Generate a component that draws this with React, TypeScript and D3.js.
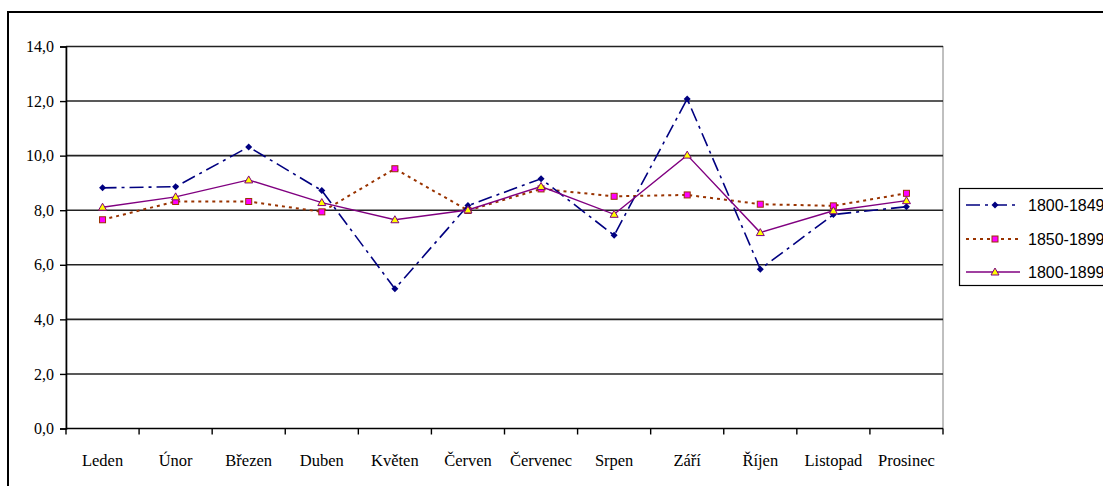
import React, { useRef, useEffect } from "react";
import * as d3 from "d3";

const months = [
  "Leden", "Únor", "Březen", "Duben", "Květen", "Červen",
  "Červenec", "Srpen", "Září", "Říjen", "Listopad", "Prosinec",
];

const s1800_1849 = [8.82, 8.86, 10.32, 8.72, 5.12, 8.17, 9.15, 7.08, 12.08, 5.84, 7.84, 8.13];
const s1850_1899 = [7.65, 8.32, 8.32, 7.94, 9.52, 7.99, 8.78, 8.51, 8.56, 8.22, 8.16, 8.62];
const s1800_1899 = [8.11, 8.49, 9.11, 8.28, 7.65, 8.01, 8.87, 7.85, 10.02, 7.18, 7.98, 8.35];

const seriesNames = ["1800-1849", "1850-1899", "1800-1899"];
const yTicks = [0, 2, 4, 6, 8, 10, 12, 14];

const SERIF = '"Liberation Serif", "Times New Roman", serif';
const SANS = '"Liberation Sans", Arial, sans-serif';

const App: React.FC = () => {
  const ref = useRef<SVGSVGElement>(null);

  useEffect(() => {
    const svg = d3.select(ref.current);
    svg.selectAll("*").remove();

    const left = 66, right = 943, top = 46.5, bottom = 428.5;

    const x = d3.scaleBand().domain(months).range([left, right]);
    const y = d3.scaleLinear().domain([0, 14]).range([bottom, top]);

    // outer chart border
    svg.append("rect")
      .attr("x", 8).attr("y", 12)
      .attr("width", 1110).attr("height", 490)
      .attr("fill", "white").attr("stroke", "black").attr("stroke-width", 2);

    // plot area frame
    svg.append("rect")
      .attr("x", left).attr("y", top)
      .attr("width", right - left).attr("height", bottom - top)
      .attr("fill", "white").attr("stroke", "#808080").attr("stroke-width", 1);

    // gridlines
    svg.append("g")
      .selectAll("line")
      .data(yTicks.filter((t) => t > 0))
      .join("line")
      .attr("x1", left).attr("x2", right)
      .attr("y1", (d) => y(d)).attr("y2", (d) => y(d))
      .attr("stroke", "#222").attr("stroke-width", 1.6);

    const fmt = (d: number) => d.toFixed(1).replace(".", ",");

    // y axis
    const yAxis = svg.append("g")
      .attr("transform", `translate(${left},0)`)
      .call(d3.axisLeft(y).tickValues(yTicks).tickFormat((d) => fmt(+d)).tickSize(6).tickPadding(6));
    yAxis.attr("font-family", null).attr("font-size", null);
    yAxis.select(".domain").attr("stroke", "black").attr("stroke-width", 1.6);
    yAxis.selectAll(".tick line").attr("stroke", "black").attr("stroke-width", 1.4);
    yAxis.selectAll("text")
      .style("font-family", SERIF)
      .style("font-size", "16px").attr("fill", "black");

    // x axis
    const xAxis = svg.append("g").attr("transform", `translate(0,${bottom})`);
    xAxis.append("line")
      .attr("x1", left).attr("x2", right).attr("y1", 0).attr("y2", 0)
      .attr("stroke", "black").attr("stroke-width", 1.6);
    const edges = d3.range(months.length + 1).map((i) => left + i * x.bandwidth());
    xAxis.selectAll("line.tk").data(edges).join("line")
      .attr("class", "tk")
      .attr("x1", (d) => d).attr("x2", (d) => d)
      .attr("y1", 0).attr("y2", 6)
      .attr("stroke", "black").attr("stroke-width", 1.4);
    xAxis.selectAll("text").data(months).join("text")
      .attr("x", (d) => (x(d) as number) + x.bandwidth() / 2)
      .attr("y", 37)
      .attr("text-anchor", "middle")
      .style("font-family", SERIF)
      .style("font-size", "16.5px").attr("fill", "black")
      .text((d) => d);

    const cx = (i: number) => (x(months[i]) as number) + x.bandwidth() / 2;
    const line = d3.line<number>().x((_, i) => cx(i)).y((d) => y(d));

    const styles = [
      { stroke: "#000080", dash: "14,5,3,5", width: 1.6 },
      { stroke: "#993300", dash: "3,4", width: 2 },
      { stroke: "#800080", dash: null, width: 1.4 },
    ];
    const data = [s1800_1849, s1850_1899, s1800_1899];

    const drawMarker = (g: any, k: number, px: number, py: number) => {
      if (k === 0) {
        g.append("path")
          .attr("d", `M${px},${py - 3.5}L${px + 3.5},${py}L${px},${py + 3.5}L${px - 3.5},${py}Z`)
          .attr("fill", "#000080");
      } else if (k === 1) {
        g.append("rect")
          .attr("x", px - 3).attr("y", py - 3).attr("width", 6).attr("height", 6)
          .attr("fill", "#ff00ff").attr("stroke", "#993300").attr("stroke-width", 1);
      } else {
        g.append("path")
          .attr("d", `M${px},${py - 4}L${px + 4},${py + 3}L${px - 4},${py + 3}Z`)
          .attr("fill", "#ffff00").attr("stroke", "#800080").attr("stroke-width", 1);
      }
    };

    [1, 0, 2].forEach((k) => {
      const st = styles[k];
      svg.append("path")
        .datum(data[k])
        .attr("d", line)
        .attr("fill", "none")
        .attr("stroke", st.stroke)
        .attr("stroke-width", st.width)
        .attr("stroke-dasharray", st.dash);
      const g = svg.append("g");
      data[k].forEach((v, i) => drawMarker(g, k, cx(i), y(v)));
    });

    // legend
    const lg = svg.append("g");
    lg.append("rect")
      .attr("x", 959.5).attr("y", 188.5).attr("width", 160).attr("height", 97)
      .attr("fill", "white").attr("stroke", "black").attr("stroke-width", 1.2);
    const ly = [205, 239, 272];
    seriesNames.forEach((name, k) => {
      const st = styles[k];
      lg.append("line")
        .attr("x1", 966).attr("x2", 1020).attr("y1", ly[k]).attr("y2", ly[k])
        .attr("stroke", st.stroke).attr("stroke-width", st.width)
        .attr("stroke-dasharray", st.dash);
      drawMarker(lg, k, 995, ly[k]);
      lg.append("text")
        .attr("x", 1028).attr("y", ly[k] + 6)
        .style("font-family", SANS)
        .style("font-size", "16px").attr("fill", "black")
        .text(name);
    });
  }, []);

  return (
    <svg
      ref={ref}
      width={1103}
      height={486}
      style={{ position: "absolute", left: 0, top: 0, display: "block" }}
    />
  );
};

export default App;
